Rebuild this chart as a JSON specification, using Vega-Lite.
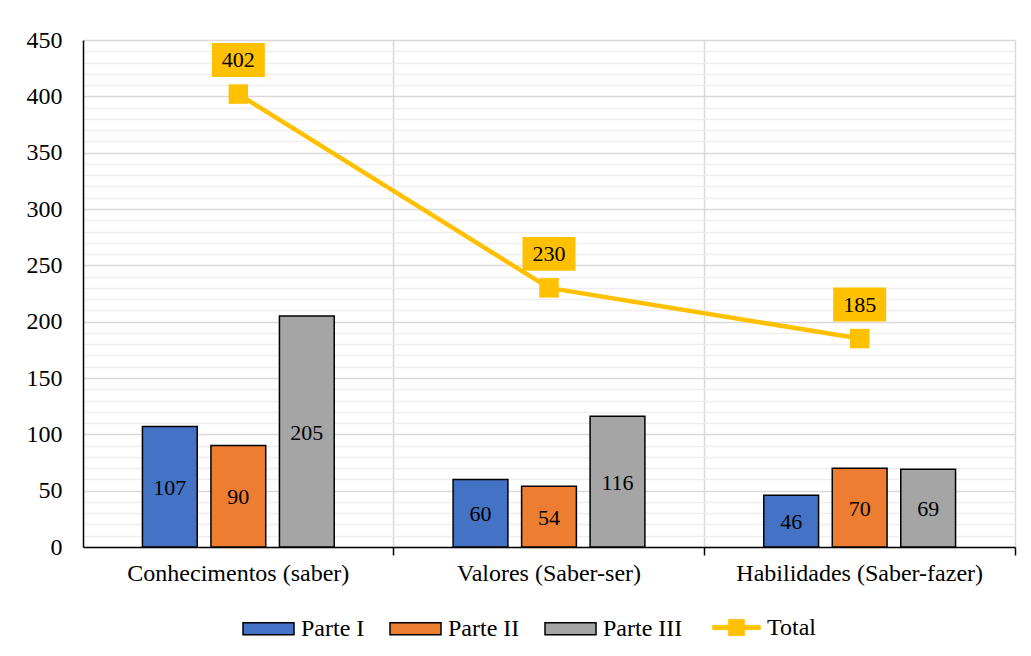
{
  "$schema": "https://vega.github.io/schema/vega-lite/v6.json",
  "width": 932,
  "height": 507,
  "autosize": "none",
  "padding": {"left": 83, "top": 40, "right": 16, "bottom": 109},
  "background": "white",
  "datasets": {
    "bars": [
      {"cat": "Conhecimentos (saber)", "serie": "Parte I", "value": 107},
      {"cat": "Conhecimentos (saber)", "serie": "Parte II", "value": 90},
      {"cat": "Conhecimentos (saber)", "serie": "Parte III", "value": 205},
      {"cat": "Valores (Saber-ser)", "serie": "Parte I", "value": 60},
      {"cat": "Valores (Saber-ser)", "serie": "Parte II", "value": 54},
      {"cat": "Valores (Saber-ser)", "serie": "Parte III", "value": 116},
      {"cat": "Habilidades (Saber-fazer)", "serie": "Parte I", "value": 46},
      {"cat": "Habilidades (Saber-fazer)", "serie": "Parte II", "value": 70},
      {"cat": "Habilidades (Saber-fazer)", "serie": "Parte III", "value": 69}
    ],
    "totals": [
      {"cat": "Conhecimentos (saber)", "serie": "Total", "value": 402},
      {"cat": "Valores (Saber-ser)", "serie": "Total", "value": 230},
      {"cat": "Habilidades (Saber-fazer)", "serie": "Total", "value": 185}
    ]
  },
  "config": {
    "font": "Liberation Serif",
    "view": {"stroke": null},
    "axis": {"labelFont": "Liberation Serif", "labelColor": "black", "title": null},
    "legend": {"padding": 0}
  },
  "resolve": {"scale": {"y": "independent"}},
  "layer": [
    {
      "data": {"name": "bars"},
      "mark": {"type": "bar", "stroke": "black", "strokeWidth": 1.5},
      "encoding": {
        "x": {
          "field": "cat", "type": "nominal", "sort": null,
          "scale": {"paddingInner": 0, "paddingOuter": 0},
          "axis": {
            "labelFontSize": 24, "labelAngle": 0, "bandPosition": 1, "labelLimit": 0,
            "labelPadding": 6, "domainColor": "black", "domainWidth": 1.5,
            "tickColor": "black", "tickSize": 8, "tickWidth": 1.5,
            "grid": true, "gridColor": "#d9d9d9", "gridWidth": 1.5
          }
        },
        "xOffset": {"field": "serie", "sort": null, "scale": {"paddingInner": 0.2, "paddingOuter": 0.868}},
        "y": {
          "field": "value", "type": "quantitative",
          "scale": {"domain": [0, 450], "nice": false},
          "axis": {
            "values": [0, 50, 100, 150, 200, 250, 300, 350, 400, 450],
            "labelFontSize": 24, "labelPadding": 21, "ticks": false,
            "domainColor": "black", "domainWidth": 1.5,
            "grid": true, "gridColor": "#d9d9d9", "gridWidth": 1.5
          }
        },
        "fill": {
          "field": "serie", "type": "nominal",
          "scale": {"domain": ["Parte I", "Parte II", "Parte III"], "range": ["#4472C4", "#ED7D31", "#A5A5A5"]},
          "legend": {
            "orient": "none", "legendX": 159, "legendY": 562, "direction": "horizontal", "title": null,
            "symbolType": "M-1,-0.235H1V0.235H-1Z", "symbolSize": 2601,
            "symbolStrokeColor": "black", "symbolStrokeWidth": 1.5,
            "labelFontSize": 24, "labelFont": "Liberation Serif", "labelColor": "black",
            "columnPadding": 22, "labelOffset": 6
          }
        }
      }
    },
    {
      "data": {"name": "totals"},
      "mark": {"type": "line", "strokeWidth": 4.5},
      "encoding": {
        "x": {"field": "cat", "type": "nominal", "sort": null},
        "y": {
          "field": "value", "type": "quantitative",
          "scale": {"domain": [0, 450], "nice": false},
          "axis": {
            "orient": "left",
            "values": [10, 20, 30, 40, 60, 70, 80, 90, 110, 120, 130, 140, 160, 170, 180, 190, 210, 220, 230, 240, 260, 270, 280, 290, 310, 320, 330, 340, 360, 370, 380, 390, 410, 420, 430, 440],
            "labels": false, "ticks": false, "domain": false,
            "grid": true, "gridColor": "#eeeeee", "gridWidth": 1.5
          }
        },
        "stroke": {
          "field": "serie", "type": "nominal",
          "scale": {"domain": ["Total"], "range": ["#FFC000"]},
          "legend": {
            "orient": "none", "legendX": 629, "legendY": 563, "direction": "horizontal", "title": null,
            "symbolType": "M-1,-0.094H1V0.094H-1Z M-0.34,-0.34H0.34V0.34H-0.34Z", "symbolSize": 2304,
            "symbolFillColor": "#FFC000", "symbolStrokeColor": "#FFC000", "symbolStrokeWidth": 0.5,
            "labelFontSize": 24, "labelFont": "Liberation Serif", "labelColor": "black",
            "labelOffset": 6
          }
        }
      }
    },
    {
      "data": {"name": "totals"},
      "mark": {"type": "point", "shape": "square", "filled": true, "size": 380, "opacity": 1, "color": "#FFC000"},
      "encoding": {
        "x": {"field": "cat", "type": "nominal", "sort": null},
        "y": {"field": "value", "type": "quantitative", "scale": {"domain": [0, 450], "nice": false}, "axis": null}
      }
    },
    {
      "data": {"name": "totals"},
      "mark": {"type": "point", "shape": "M-1,-0.64H1V0.64H-1Z", "filled": true, "size": 2809, "opacity": 1, "color": "#FFC000", "yOffset": -34},
      "encoding": {
        "x": {"field": "cat", "type": "nominal", "sort": null},
        "y": {"field": "value", "type": "quantitative", "scale": {"domain": [0, 450], "nice": false}, "axis": null}
      }
    },
    {
      "data": {"name": "totals"},
      "mark": {"type": "text", "fontSize": 22, "color": "black", "baseline": "middle", "align": "center", "yOffset": -34},
      "encoding": {
        "x": {"field": "cat", "type": "nominal", "sort": null},
        "y": {"field": "value", "type": "quantitative", "scale": {"domain": [0, 450], "nice": false}, "axis": null},
        "text": {"field": "value", "type": "quantitative"}
      }
    },
    {
      "data": {"name": "bars"},
      "mark": {"type": "text", "fontSize": 22, "color": "black", "baseline": "middle", "align": "center", "yOffset": 1},
      "encoding": {
        "x": {"field": "cat", "type": "nominal", "sort": null},
        "xOffset": {"field": "serie", "sort": null},
        "y": {"field": "value", "type": "quantitative", "scale": {"domain": [0, 900], "nice": false}, "axis": null},
        "text": {"field": "value", "type": "quantitative"}
      }
    }
  ]
}
